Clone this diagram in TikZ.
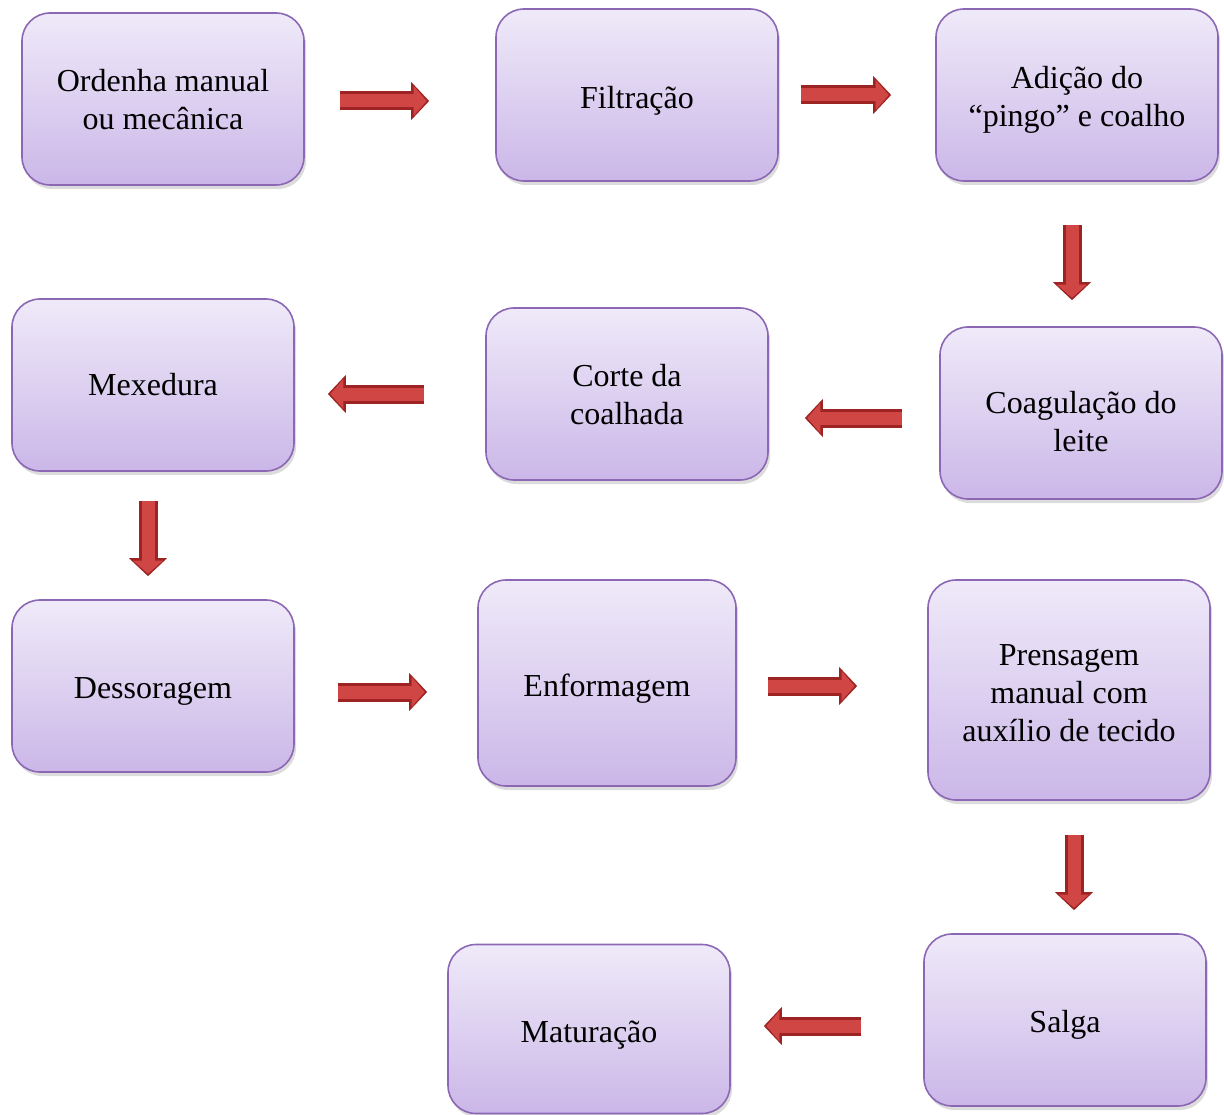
\documentclass[tikz,border=0pt]{standalone}
\usepackage{fontspec}
\setmainfont{Liberation Serif}
\usetikzlibrary{shadows,calc,arrows.meta}
\definecolor{boxtop}{HTML}{EFEAF9}
\definecolor{boxbot}{HTML}{CBB7E8}
\definecolor{boxline}{HTML}{8C68B4}
\definecolor{arrdark}{HTML}{9E2424}
\definecolor{arrmid}{HTML}{CF4644}
\tikzset{
  stepbox/.style={draw=boxline, line width=1.6pt, rounded corners=28pt,
    top color=boxtop, bottom color=boxbot,
    minimum width=282pt, minimum height=172pt, align=center,
    font=\fontsize{32pt}{38pt}\selectfont, text=black,
    drop shadow={opacity=0.28, shadow xshift=2pt, shadow yshift=-4pt}},
  blkout/.style={draw=arrdark, line width=19pt,
    -{Triangle[length=18pt,width=37pt]}},
  blkin/.style={draw=arrmid, line width=13pt,
    -{Triangle[length=13pt,width=29pt]}, shorten >=2.5pt},
}
\newcommand{\tx}[2][5pt]{\raisebox{-#1}[\height][\depth]{\begin{tabular}{@{}c@{}}#2\end{tabular}}}
\newcommand{\blockarrow}[2]{%
  \draw[blkout] #1 -- #2;
  \draw[blkin] #1 -- #2;}
\begin{document}
\begin{tikzpicture}[x=1pt,y=-1pt]
\useasboundingbox (0,0) rectangle (1224,1115);
\node[stepbox] (o1) at (163,99) {\tx[4pt]{Ordenha manual\\ou mecânica}};
\node[stepbox] (o2) at (637,95) {\tx[6pt]{Filtração}};
\node[stepbox] (o3) at (1077,95) {\tx[5pt]{Adição do\\“pingo” e coalho}};
\node[stepbox] (o4) at (1081,413) {\tx[12pt]{Coagulação do\\leite}};
\node[stepbox] (o5) at (627,394) {\tx[4pt]{Corte da\\coalhada}};
\node[stepbox] (o6) at (153,385) {\tx[3pt]{Mexedura}};
\node[stepbox] (o7) at (153,686) {\tx[5pt]{Dessoragem}};
\node[stepbox, minimum width=258pt, minimum height=206pt] (o8) at (607,683) {\tx[6pt]{Enformagem}};
\node[stepbox, minimum height=220pt] (o9) at (1069,690) {\tx[6pt]{Prensagem\\manual com\\auxílio de tecido}};
\node[stepbox] (o10) at (1065,1020) {\tx[5pt]{Salga}};
\node[stepbox, minimum height=169pt] (o11) at (589,1029) {\tx[6pt]{Maturação}};

\blockarrow{($(o1.east)+(35,2)$)}{($(o2.west |- o1.east)+(-66,2)$)}
\blockarrow{($(o2.east)+(22,0)$)}{($(o3.west |- o2.east)+(-44,0)$)}
\blockarrow{($(o3.south)+(-5,43)$)}{($(o4.north -| o3.south)+(-5,-26)$)}
\blockarrow{($(o4.west)+(-37,5)$)}{($(o5.east |- o4.west)+(36,5)$)}
\blockarrow{($(o5.west)+(-61,0)$)}{($(o6.east |- o5.west)+(33,0)$)}
\blockarrow{($(o6.south)+(-5,29)$)}{($(o7.north -| o6.south)+(-5,-23)$)}
\blockarrow{($(o7.east)+(43,6)$)}{($(o8.west |- o7.east)+(-50,6)$)}
\blockarrow{($(o8.east)+(31,3)$)}{($(o9.west |- o8.east)+(-70,3)$)}
\blockarrow{($(o9.south)+(5,34)$)}{($(o10.north -| o9.south)+(5,-23)$)}
\blockarrow{($(o10.west)+(-62,6)$)}{($(o11.east |- o10.west)+(33,6)$)}
\end{tikzpicture}
\end{document}
